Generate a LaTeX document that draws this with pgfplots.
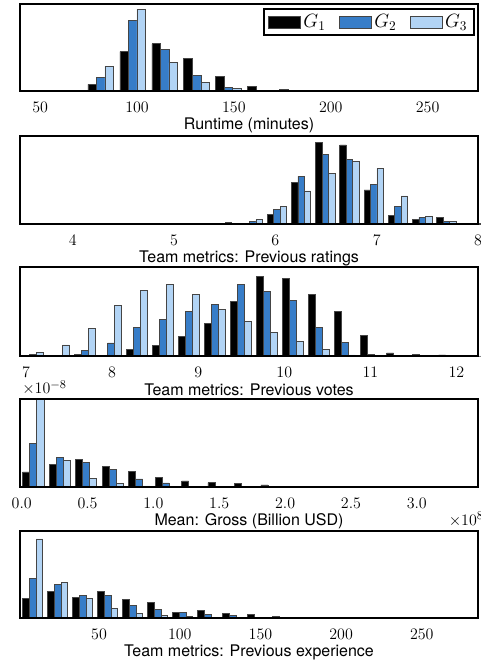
\documentclass[border=0pt]{standalone}
\usepackage{pgfplots}
\pgfplotsset{compat=1.18}
\usepackage{pgfplotstable}
\usepackage{fontspec}
\newfontfamily\lab{TeX Gyre Heros}
\definecolor{edgec}{HTML}{454545}
\definecolor{cb}{HTML}{377DC8}
\definecolor{cl}{HTML}{B2D4F5}

% Runtime
\pgfplotstableread{
c a b d
81.25 20 41 74
97.75 118 210 245
114.25 141 124 85
130.75 98 46 25
147.25 43 10 7
163.75 14 2 1
180.25 4 1 0.3
196.75 1.5 0.3 0.3
}\tabA
% Previous ratings
\pgfplotstableread{
c a b d
5.298 0 0 2
5.537 0 5 2
5.776 1 7 13
6.015 28 43 52
6.254 126 144 100
6.493 246 210 154
6.732 239 195 189
6.971 103 119 168
7.210 25 54 85
7.449 13 20 24
7.688 20 9 7
7.927 2 1 1
}\tabB
% Previous votes
\pgfplotstableread{
c a b d
7.082 1 5 10
7.384 0.5 0.5 33
7.686 5 17 83
7.988 1 39 150
8.290 20 86 195
8.592 31 110 215
8.894 58 133 185
9.196 98 153 140
9.498 163 215 103
9.800 238 192 71
10.102 233 167 43
10.404 183 86 20
10.706 133 41 3
11.008 61 5 1
11.310 9 1 0.3
11.612 5 0.5 0.3
11.914 3 0.3 0
12.216 2 0.3 0
}\tabC
% Gross
\pgfplotstableread{
c a b d
0.088 45 129 262
0.289 67 87 80
0.490 83 72 26
0.691 61 52 10
0.892 46 24 3
1.093 28 12 1
1.294 18 2 0.5
1.495 13 1 0.3
1.696 10 1 0.3
1.897 6 0.5 0
2.098 1 0.3 0
2.299 0.5 0 0
}\tabD
% Previous experience
\pgfplotstableread{
c a b d
8.92 60 118 238
24.41 80 100 108
39.90 63 69 58
55.39 79 67 30
70.88 56 39 15
86.37 48 25 7
101.86 18 18 4
117.35 22 10 2
132.84 15 8 1
148.33 11 3 0.5
163.82 6 2 0.5
179.31 2 2 1
}\tabE

\pgfplotsset{
  hist/.style={scale only axis, width=343.5pt, height=65.25pt, anchor=south west,
    ymin=0, ytick=\empty, axis on top, clip=false,
    axis line style={line width=1.5pt},
    major tick length=0pt,
    tick label style={font=\fontsize{13}{15}\selectfont},
    xticklabel style={yshift=-4.5pt},
    xlabel style={font=\lab\fontsize{12}{14}\selectfont, at={(axis description cs:0.5,0)}, anchor=center, yshift=-25.5pt}},
  g1/.style={ybar, bar shift=0pt, fill=black, draw=edgec, line width=0.5pt},
  g2/.style={ybar, bar shift=0pt, fill=cb, draw=edgec, line width=0.5pt},
  g3/.style={ybar, bar shift=0pt, fill=cl, draw=edgec, line width=0.5pt},
}

\begin{document}
\begin{tikzpicture}[x=1pt,y=1pt]
\useasboundingbox (0,0) rectangle (360.75,496.5);

\begin{axis}[hist, name=ax1, at={(15pt,428.25pt)}, ymax=260, xmin=39.6, xmax=276,
  xtick={50,100,150,200,250}, xlabel={Runtime (minutes)}, bar width=4.4,
  legend columns=3,
  legend style={at={(1,1)}, anchor=north east, xshift=-2.3pt, yshift=-3.2pt, draw=black, line width=1.5pt,
    font=\fontsize{14}{16}\selectfont, inner xsep=3pt, inner ysep=2pt,
    /tikz/every even column/.append style={column sep=8pt}}]
\addplot[g1, legend image code/.code={\draw[fill=black,draw=edgec,line width=0.5pt] (0pt,-4.35pt) rectangle (24pt,4.35pt);}] table[x expr=\thisrow{c}-4.4, y=a] {\tabA};
\addlegendentry{$G_1$}
\addplot[g2, legend image code/.code={\draw[fill=cb,draw=edgec,line width=0.5pt] (0pt,-4.35pt) rectangle (24pt,4.35pt);}] table[x=c, y=b] {\tabA};
\addlegendentry{$G_2$}
\addplot[g3, legend image code/.code={\draw[fill=cl,draw=edgec,line width=0.5pt] (0pt,-4.35pt) rectangle (24pt,4.35pt);}] table[x expr=\thisrow{c}+4.4, y=d] {\tabA};
\addlegendentry{$G_3$}
\end{axis}

\begin{axis}[hist, name=ax2, at={(15pt,328.5pt)}, height=66pt, ymax=266, xmin=3.48, xmax=8.0,
  xtick={4,5,6,7,8}, xlabel={Team metrics: Previous ratings}, bar width=0.0637]
\addplot[g1] table[x expr=\thisrow{c}-0.0637, y=a] {\tabB};
\addplot[g2] table[x=c, y=b] {\tabB};
\addplot[g3] table[x expr=\thisrow{c}+0.0637, y=d] {\tabB};
\end{axis}

\begin{axis}[hist, name=ax3, at={(15pt,229.5pt)}, height=66.75pt, ymax=266, xmin=6.93, xmax=12.25,
  xtick={7,8,9,10,11,12}, xlabel={Team metrics: Previous votes}, bar width=0.0805]
\addplot[g1] table[x expr=\thisrow{c}-0.0805, y=a] {\tabC};
\addplot[g2] table[x=c, y=b] {\tabC};
\addplot[g3] table[x expr=\thisrow{c}+0.0805, y=d] {\tabC};
\end{axis}

\begin{axis}[hist, name=ax4, at={(15pt,131.25pt)}, height=66pt, ymax=262, xmin=-0.013, xmax=3.465,
  xtick={0,0.5,1,1.5,2,2.5,3}, xticklabels={$0.0$,$0.5$,$1.0$,$1.5$,$2.0$,$2.5$,$3.0$},
  xlabel={Mean: Gross (Billion USD)}, bar width=0.0536]
\addplot[g1] table[x expr=\thisrow{c}-0.0536, y=a] {\tabD};
\addplot[g2] table[x=c, y=b] {\tabD};
\addplot[g3] table[x expr=\thisrow{c}+0.0536, y=d] {\tabD};
\end{axis}

\begin{axis}[hist, name=ax5, at={(15pt,33pt)}, ymax=262, xmin=1, xmax=284.8,
  xtick={50,100,150,200,250}, xlabel={Team metrics: Previous experience}, bar width=4.13]
\addplot[g1] table[x expr=\thisrow{c}-4.13, y=a] {\tabE};
\addplot[g2] table[x=c, y=b] {\tabE};
\addplot[g3] table[x expr=\thisrow{c}+4.13, y=d] {\tabE};
\end{axis}

\node[anchor=base west, inner sep=0pt, font=\fontsize{13}{15}\selectfont] at ([xshift=1.5pt,yshift=3.8pt]ax4.north west) {$\times10^{-8}$};
\node[anchor=base east, inner sep=0pt, font=\fontsize{13}{15}\selectfont] at ([xshift=4.5pt,yshift=-29pt]ax4.south east) {$\times10^{8}$};
\end{tikzpicture}
\end{document}
